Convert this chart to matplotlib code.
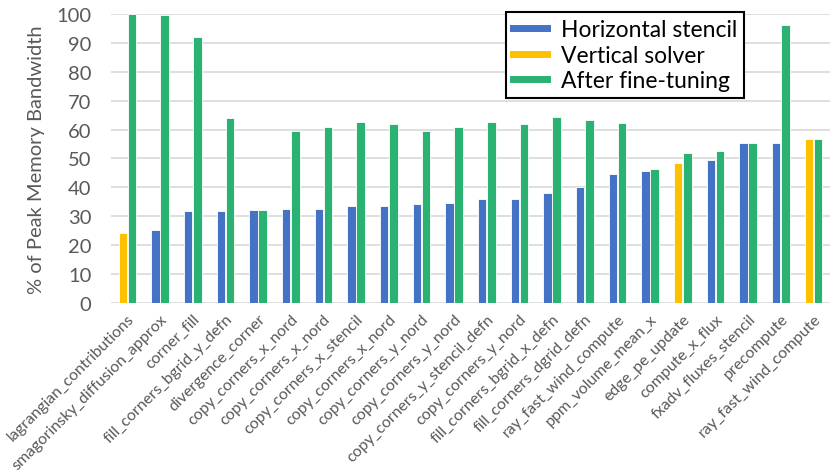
import matplotlib
matplotlib.use("Agg")
import matplotlib.pyplot as plt
from matplotlib.lines import Line2D
import numpy as np

plt.rcParams['font.family'] = ['Lato', 'DejaVu Sans']

# kernels, in the order they appear on the chart
kernels = [
    "lagrangian_contributions", "smagorinsky_diffusion_approx", "corner_fill",
    "fill_corners_bgrid_y_defn", "divergence_corner", "copy_corners_x_nord",
    "copy_corners_x_nord", "copy_corners_x_stencil", "copy_corners_x_nord",
    "copy_corners_y_nord", "copy_corners_y_nord", "copy_corners_y_stencil_defn",
    "copy_corners_y_nord", "fill_corners_bgrid_x_defn", "fill_corners_dgrid_defn",
    "ray_fast_wind_compute", "ppm_volume_mean_x", "edge_pe_update",
    "compute_x_flux", "fxadv_fluxes_stencil", "precompute", "ray_fast_wind_compute",
]
# H = horizontal stencil, V = vertical solver
kind = ["V", "H", "H", "H", "H", "H", "H", "H", "H", "H", "H",
        "H", "H", "H", "H", "H", "H", "V", "H", "H", "H", "V"]
before = [24.1, 25.2, 31.9, 32.0, 32.3, 32.4, 32.4, 33.4, 33.4, 34.4, 34.5,
          35.9, 36.0, 38.2, 40.1, 44.7, 45.6, 48.3, 49.5, 55.4, 55.5, 56.9]
tuned = [100.0, 99.7, 92.0, 64.1, 32.3, 59.5, 61.0, 62.6, 61.8, 59.5, 61.0,
         62.6, 61.8, 64.2, 63.4, 62.2, 46.2, 51.8, 52.5, 55.5, 96.2, 56.7]

blue = "#4472C4"
yellow = "#FFC000"
green = "#2AB273"
grey = "#595959"

fig = plt.figure(figsize=(8.31, 4.77), dpi=100)
ax = fig.add_axes([0.1336, 0.3627, 0.865, 0.6059])

x = np.arange(len(kernels))
w = 0.26
colors = [blue if k == "H" else yellow for k in kind]
ax.bar(x - w / 2 - 0.01, before, w, color=colors, edgecolor="white", linewidth=0.6, zorder=3)
ax.bar(x + w / 2 + 0.01, tuned, w, color=green, edgecolor="white", linewidth=0.6, zorder=3)

ax.set_xlim(-0.5, len(kernels) - 0.5)
ax.set_ylim(0, 100)
ax.set_yticks(range(0, 101, 10))
ax.yaxis.grid(True, color="#D9D9D9", linewidth=1.2, zorder=0)
for s in ax.spines.values():
    s.set_visible(False)
ax.tick_params(axis="y", length=0, pad=14, labelsize=14.5, labelcolor=grey)
ax.tick_params(axis="x", length=0, pad=6)
ax.set_xticks(x)
ax.set_xticklabels(kernels, rotation=45, ha="right", rotation_mode="anchor",
                   fontsize=11.5, color=grey)
ax.set_ylabel("% of Peak Memory Bandwidth", fontsize=14.5, color=grey, labelpad=8)

handles = [Line2D([], [], color=blue, lw=5),
           Line2D([], [], color=yellow, lw=5),
           Line2D([], [], color=green, lw=5)]
leg = fig.legend(handles, ["Horizontal stencil", "Vertical solver", "After fine-tuning"],
                 loc="upper left", bbox_to_anchor=(0.595, 0.996), fontsize=16.5,
                 frameon=True, fancybox=False, edgecolor="black", framealpha=1,
                 handlelength=1.5, handletextpad=0.6, borderpad=0.3, labelspacing=0.2)
leg.get_frame().set_linewidth(1.5)

fig.savefig("out.png", dpi=100)
